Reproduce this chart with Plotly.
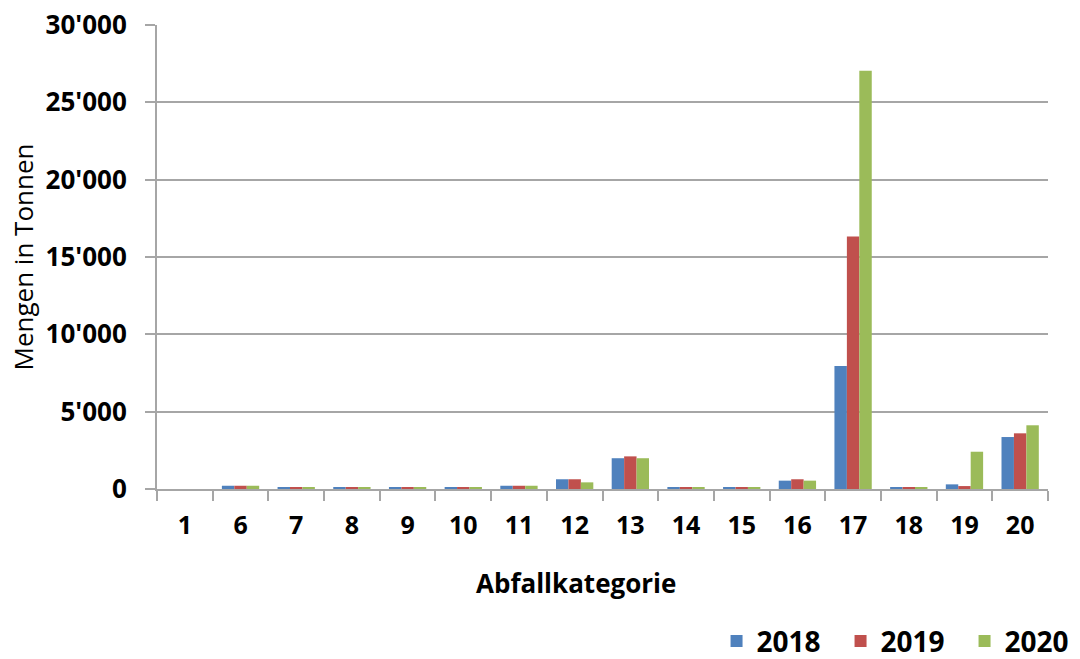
import plotly.graph_objects as go

categories = ["1", "6", "7", "8", "9", "10", "11", "12", "13", "14", "15", "16", "17", "18", "19", "20"]
v2018 = [0, 210, 110, 110, 110, 110, 210, 630, 1990, 110, 110, 540, 7950, 110, 300, 3360]
v2019 = [0, 210, 110, 110, 110, 110, 210, 630, 2110, 110, 110, 630, 16330, 110, 190, 3600]
v2020 = [0, 210, 110, 110, 110, 110, 210, 430, 1990, 110, 110, 540, 27050, 110, 2410, 4120]
years = ["2018", "2019", "2020"]
colors = ["#4F81BD", "#C0504D", "#9BBB59"]

fig = go.Figure()
for name, vals, col in zip(years, [v2018, v2019, v2020], colors):
    fig.add_trace(go.Bar(x=categories, y=vals, name=name, marker=dict(color=col, line=dict(width=0))))

font_fam = "Open Sans"
fig.update_layout(
    width=1080, height=659,
    paper_bgcolor="white", plot_bgcolor="white",
    margin=dict(l=157, r=32, t=25, b=170, autoexpand=False),
    barmode="group", bargap=0.33, bargroupgap=0,
    separators=".'",
    font=dict(family=font_fam, color="black"),
    showlegend=True,
    legend=dict(orientation="h", x=0.628, xanchor="left", y=-0.328, yanchor="middle",
                font=dict(size=28, family=font_fam, weight="bold"),
                itemwidth=30, tracegroupgap=0, entrywidth=79, entrywidthmode="pixels"),
    xaxis=dict(
        type="category", tickson="boundaries", ticks="outside", ticklen=10, tickwidth=2,
        tickcolor="#a6a6a6", showline=True, linecolor="#a6a6a6", linewidth=2,
        showgrid=False, automargin=False,
        tickfont=dict(size=25, family=font_fam, weight="bold"),
        ticklabelstandoff=13,
    ),
    yaxis=dict(
        range=[0, 30000], dtick=5000, tickformat=",d",
        ticks="outside", ticklen=10, tickwidth=2, tickcolor="#a6a6a6",
        showline=True, linecolor="#a6a6a6", linewidth=2, automargin=False,
        showgrid=True, gridcolor="#a6a6a6", gridwidth=2, zeroline=False,
        tickfont=dict(size=26, family=font_fam, weight="bold"),
        ticklabelstandoff=13, ticklabeloverflow="allow",
        title=dict(text="Mengen in Tonnen", font=dict(size=26, family=font_fam, weight=500), standoff=4),
    ),
    annotations=[dict(text="Abfallkategorie", xref="paper", yref="paper", x=0.470, y=-0.2026,
                      xanchor="center", yanchor="middle", showarrow=False,
                      font=dict(size=26, family=font_fam, weight="bold", color="black"))],
)

fig.write_html("out.html", post_script="document.body.style.margin='0';",
               config={"displayModeBar": False})
